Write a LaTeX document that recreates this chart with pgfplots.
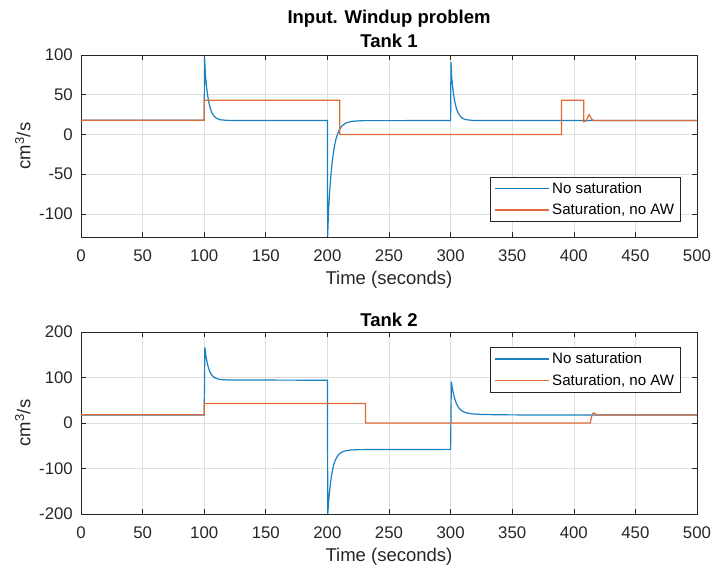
\documentclass[border=0pt]{standalone}
\usepackage{fontspec}
\setmainfont{Liberation Sans}
\usepackage{pgfplots}
\pgfplotsset{compat=1.18}
\definecolor{mblue}{rgb}{0.1,0.5,0.76}
\definecolor{morange}{rgb}{0.87,0.42,0.22}
\definecolor{axgray}{rgb}{0.15,0.15,0.15}
\pgfplotsset{
  mystyle/.style={
    width=616pt, height=182pt, scale only axis,
    xmin=0, xmax=500, xtick={0,50,...,500},
    grid=major, major grid style={black!13, line width=0.6pt},
    tick align=inside, xtick pos=both, ytick pos=both,
    major tick length=5pt,
    tick style={axgray, line width=0.6pt},
    axis line style={axgray, line width=0.8pt},
    /pgf/number format/assume math mode=true,
    tick label style={font=\fontsize{16.8}{20}\selectfont, text=axgray},
    xticklabel style={anchor=base, yshift=-25pt, inner sep=0pt},
    yticklabel style={anchor=east, xshift=-8pt, inner sep=0pt},
    xlabel={Time (seconds)},
    xlabel style={font=\fontsize{18.5}{22}\selectfont, text=axgray, at={(axis description cs:0.5,0)}, anchor=base, yshift=-48pt, inner sep=0pt},
    ylabel={cm\textsuperscript{3}/s},
    ylabel style={font=\fontsize{18.5}{22}\selectfont, text=axgray, at={(axis description cs:-0.082,0.5)}, anchor=base, inner sep=0pt},
    title style={font=\bfseries\fontsize{18.5}{22}\selectfont, at={(axis description cs:0.5,1)}, anchor=base, inner sep=0pt},
    legend style={font=\fontsize{15.1}{18}\selectfont, draw=axgray, line width=0.6pt, inner xsep=4pt, inner ysep=4pt, nodes={inner xsep=2.5pt, inner ysep=1.5pt}, row sep=6pt},
    legend cell align=left,
    legend image code/.code={\draw[#1, line width=1.4pt] (0pt,0pt) -- (54pt,0pt);},
    every axis plot/.append style={line width=1.2pt},
  }
}
\begin{document}
\begin{tikzpicture}
\path[use as bounding box] (0,0) rectangle (713pt,569pt);
\node[font=\bfseries\fontsize{18.5}{22}\selectfont, anchor=base, inner sep=0pt] at (389pt,545.7pt) {Input. Windup problem};
\begin{axis}[mystyle, at={(81pt,332pt)}, anchor=south west,
  ymin=-129, ymax=100, ytick={-100,-50,0,50,100},
  title={Tank 1}, title style={yshift=1.8pt},
  legend style={at={(1,0)}, anchor=south east, xshift=-16pt, yshift=15pt}]
\addplot[mblue] coordinates {
(0,18) (100,18) (100.3,97) (101,74.8) (102,58.6) (103,47) (104,38.6) (105,32.6) (106,28.3) (107,25.3) (108,23.1) (110,20.3) (113,18.5) (118,17.8) (125,17.6) (200,17.6)
(200.2,-128) (201,-94.2) (202,-68.4) (203,-48.6) (204,-33.3) (205,-21.6) (206,-12.6) (207,-5.7) (208,-0.3) (210,6.9) (212,11.1) (215,14.5) (220,16.5) (225,17.1) (230,17.4) (300,17.5)
(300.3,91) (301,70.2) (302,55.2) (303,44.5) (304,36.9) (305,31.4) (306,27.4) (308,22.6) (310,20.0) (313,18.5) (318,17.7) (325,17.5) (500,17.5)};
\addlegendentry{No saturation}
\addplot[morange] coordinates {
(0,18) (100,18) (100,43) (210,43) (210,0) (390,0) (390,43) (408,43) (408,16) (410,17) (412.5,25) (414.5,19) (416.5,17.5) (500,17.5)};
\addlegendentry{Saturation, no AW}
\end{axis}
\begin{axis}[mystyle, at={(81pt,55pt)}, anchor=south west,
  ymin=-200, ymax=200, ytick={-200,-100,0,100,200},
  title={Tank 2}, title style={yshift=-0.2pt},
  legend style={at={(1,1)}, anchor=north east, xshift=-16pt, yshift=-15pt}]
\addplot[mblue] coordinates {
(0,17.6) (100,17.6) (100.5,166) (101.5,145.7) (102.5,131.2) (103.5,120.8) (104.5,113.3) (105.5,108) (106.5,104.2) (108.5,99.5) (110.5,97.1) (113.5,95.4) (118.5,94.7) (125,94.5) (200,94)
(200.3,-200) (201.3,-163.8) (202.3,-136.8) (203.3,-116.7) (204.3,-101.8) (205.3,-90.6) (206.3,-82.3) (208.3,-72) (210.3,-66.5) (213.3,-62) (218.3,-59.5) (225,-58.5) (300,-58)
(300.6,91) (301.5,75) (302.5,62) (303.5,52) (304.5,44) (305.5,38.5) (307,32) (309,27) (311,24) (314,21.5) (318,20) (325,18.8) (340,18) (360,17.7) (413,17.6) (500,17.6)};
\addlegendentry{No saturation}
\addplot[morange] coordinates {
(0,18) (100,18) (100,43) (231,43) (231,0) (413.4,0) (414.5,15) (415.5,21) (416.5,22) (418,19) (420,17.6) (500,17.6)};
\addlegendentry{Saturation, no AW}
\end{axis}
\end{tikzpicture}
\end{document}
